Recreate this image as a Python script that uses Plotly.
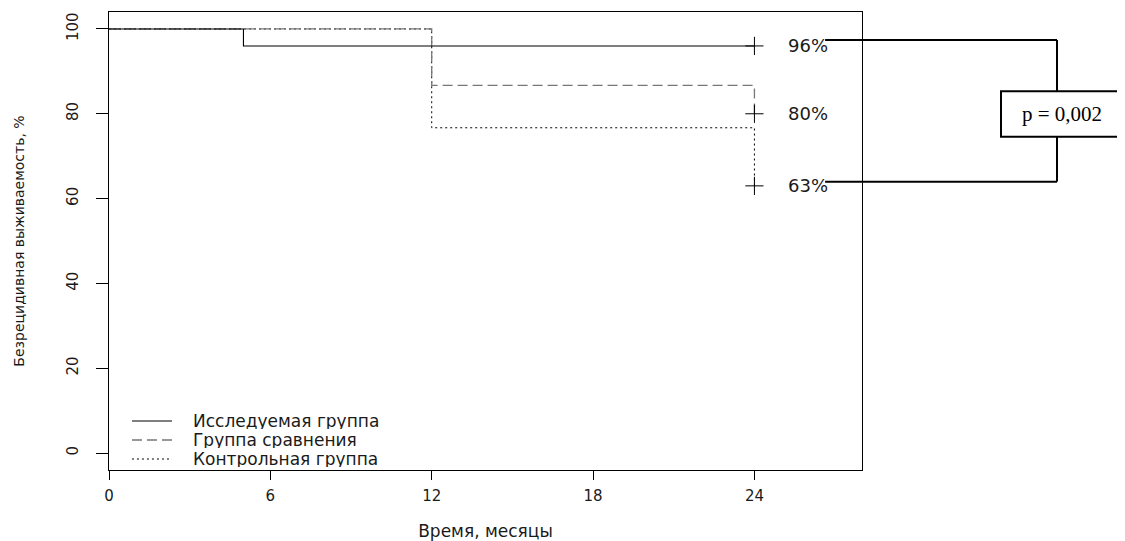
import plotly.graph_objects as go

# Data (Kaplan–Meier step curves)
groups = ["Исследуемая группа", "Группа сравнения", "Контрольная группа"]
t_study = [0, 5, 24]
s_study = [100, 96, 96]
t_comp = [0, 12, 24]
s_comp = [100, 86.7, 80]
t_ctrl = [0, 12, 24]
s_ctrl = [100, 76.7, 63]
censor_t = [24, 24, 24]
censor_s = [96, 80, 63]
end_labels = ["96%", "80%", "63%"]
x_ticks = [0, 6, 12, 18, 24]
y_ticks = [0, 20, 40, 60, 80, 100]
p_text = "p = 0,002"

FONT = "DejaVu Sans, Arial, sans-serif"
TXT = "#1a1a1a"

styles = [
    dict(color="black", width=1.1),
    dict(color="#777777", width=1.3, dash="10px,5px"),
    dict(color="black", width=1, dash="2px,3px"),
]

fig = go.Figure()

# draw dotted first, dashed, then solid on top
fig.add_trace(go.Scatter(x=t_ctrl, y=s_ctrl, mode="lines", line_shape="hv",
                         line=styles[2], name=groups[2], showlegend=False))
fig.add_trace(go.Scatter(x=t_comp, y=s_comp, mode="lines", line_shape="hv",
                         line=styles[1], name=groups[1], showlegend=False))
fig.add_trace(go.Scatter(x=t_study, y=s_study, mode="lines", line_shape="hv",
                         line=styles[0], name=groups[0], showlegend=False))

# censor marks
fig.add_trace(go.Scatter(x=censor_t, y=censor_s, mode="markers",
                         marker=dict(symbol="cross-thin", size=13,
                                     line=dict(color="black", width=1)),
                         showlegend=False, hoverinfo="skip"))

# end labels
for yv, lab in zip(censor_s, end_labels):
    fig.add_annotation(x=26.0, y=yv, xref="x", yref="y", text=lab, xanchor="center",
                       showarrow=False, font=dict(family=FONT, size=18, color=TXT))

# manual legend (R-style, no box)
leg_y = [0.1070, 0.0655, 0.0240]
for name, st, ly in zip(groups, styles, leg_y):
    fig.add_shape(type="line", xref="paper", yref="paper", x0=0.0305, x1=0.0837,
                  y0=ly, y1=ly, line=st)
    fig.add_annotation(xref="paper", yref="paper", x=0.110, y=ly, text=name,
                       xanchor="left", yanchor="middle", showarrow=False,
                       height=16, borderpad=0,
                       font=dict(family=FONT, size=17, color=TXT))

# bracket with p-value
y_top, y_bot = 97.4, 64.0
box_top, box_bot = 85.3, 74.6
xs0, xb, xr0, xr1 = 0.951, 1.259, 1.1846, 1.5
line_style = dict(color="black", width=2)
fig.add_shape(type="line", xref="paper", yref="y", x0=xs0, x1=xb, y0=y_top, y1=y_top, line=line_style)
fig.add_shape(type="line", xref="paper", yref="y", x0=xb, x1=xb, y0=y_top, y1=box_top, line=line_style)
fig.add_shape(type="line", xref="paper", yref="y", x0=xb, x1=xb, y0=box_bot, y1=y_bot, line=line_style)
fig.add_shape(type="line", xref="paper", yref="y", x0=xs0, x1=xb, y0=y_bot, y1=y_bot, line=line_style)
fig.add_shape(type="rect", xref="paper", yref="y", x0=xr0, x1=xr1, y0=box_bot, y1=box_top,
              line=line_style, fillcolor="white")
fig.add_annotation(xref="paper", yref="y", x=1.2656, y=(box_top + box_bot) / 2, text=p_text,
                   xanchor="center", yanchor="middle", showarrow=False,
                   font=dict(family="Liberation Serif, Times New Roman, serif", size=21, color="black"))

# the page body adds an 8px offset, so the figure is 8px smaller and margins shifted
fig.update_layout(
    width=1117, height=533,
    margin=dict(l=101, r=263, t=4, b=71, autoexpand=False),
    plot_bgcolor="white", paper_bgcolor="white",
    font=dict(family=FONT, size=15, color=TXT),
    showlegend=False,
)
fig.update_xaxes(range=[0, 28], tickvals=x_ticks, showgrid=False, zeroline=False,
                 showline=True, linecolor="black", linewidth=1, mirror=True,
                 ticks="outside", ticklen=9, tickcolor="black", automargin=False,
                 tickfont=dict(family=FONT, size=15, color=TXT), ticklabelstandoff=3,
                 title=dict(text="Время, месяцы", font=dict(family=FONT, size=17, color=TXT), standoff=24))
fig.update_yaxes(range=[-4, 104], tickvals=y_ticks, showgrid=False, zeroline=False,
                 showline=True, linecolor="black", linewidth=1, mirror=True,
                 ticks="outside", ticklen=12, tickcolor="black", tickangle=-90, automargin=False,
                 tickfont=dict(family=FONT, size=15, color=TXT), ticklabelstandoff=12,
                 title=dict(text="Безрецидивная выживаемость, %", font=dict(family=FONT, size=14, color=TXT), standoff=36))

fig.write_html("out.html")
